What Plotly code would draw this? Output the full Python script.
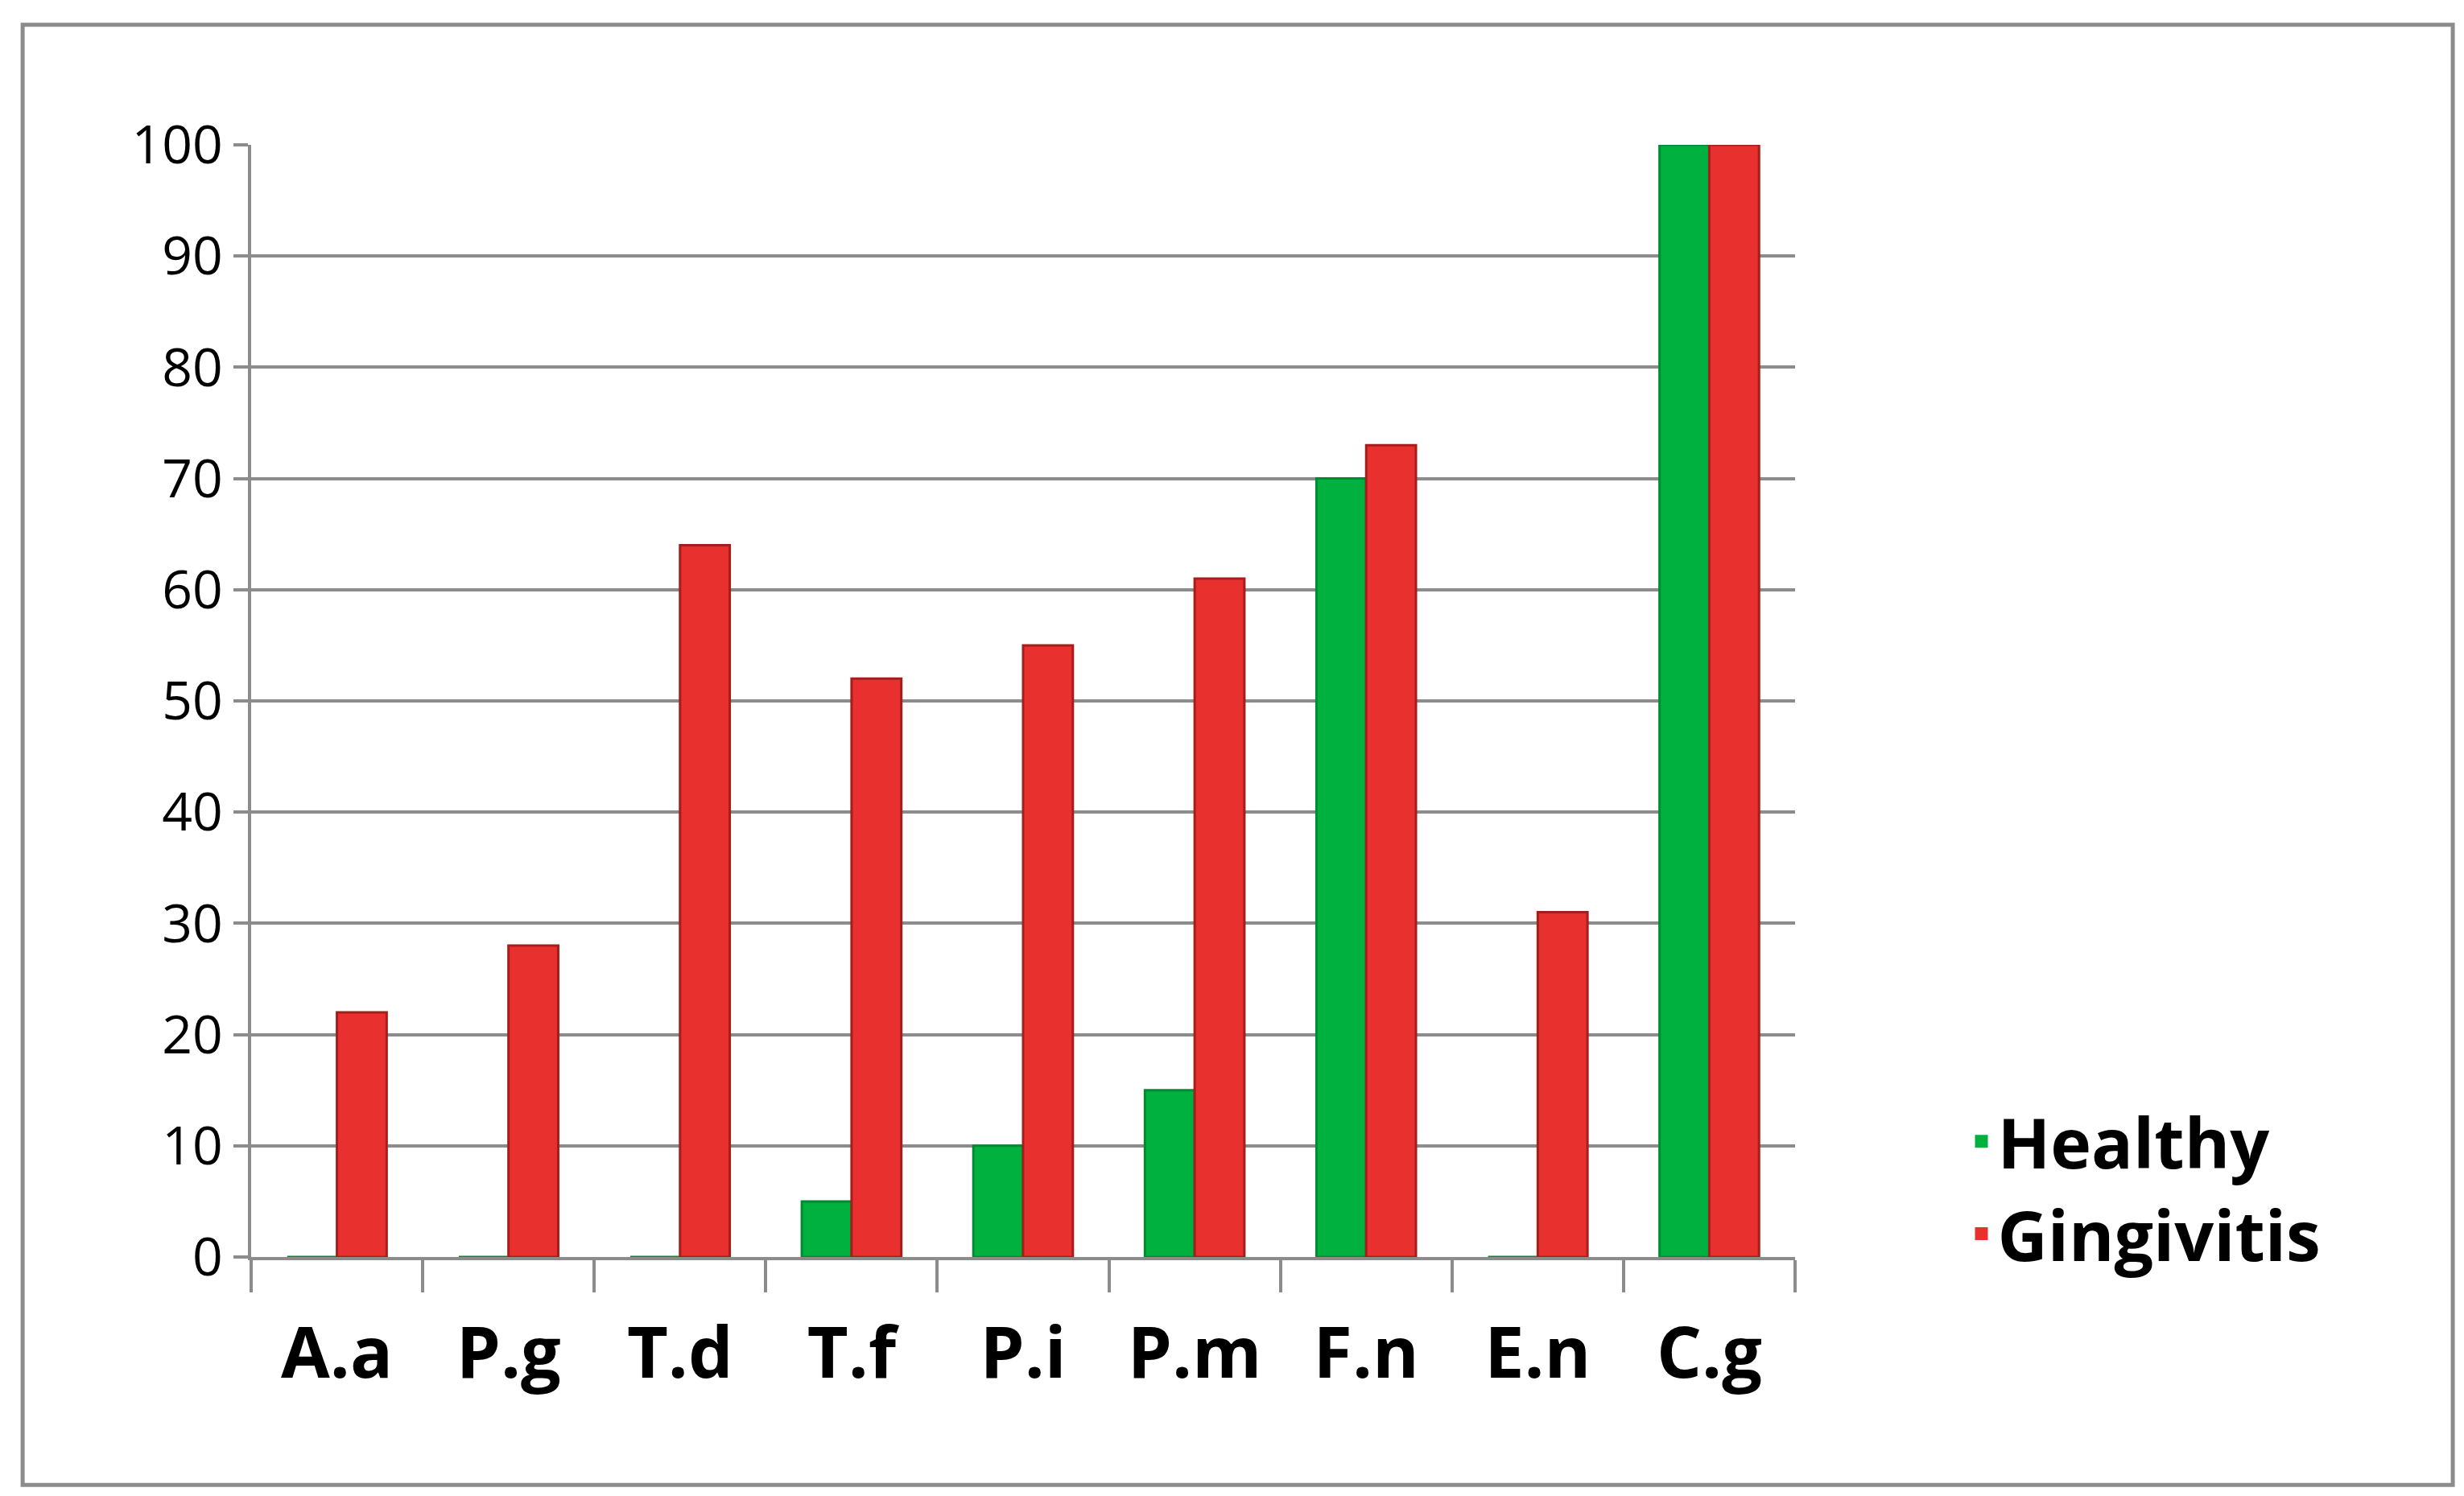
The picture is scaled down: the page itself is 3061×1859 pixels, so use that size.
from plotly import graph_objects as go

# Data
categories = ['A.a', 'P.g', 'T.d', 'T.f', 'P.i', 'P.m', 'F.n', 'E.n', 'C.g']
healthy = [0, 0, 0, 5, 10, 15, 70, 0, 100]
gingivitis = [22, 28, 64, 52, 55, 61, 73, 31, 100]
y_ticks = [0, 10, 20, 30, 40, 50, 60, 70, 80, 90, 100]

green = '#00B140'
red = '#E8302E'

fig = go.Figure()
fig.add_trace(go.Bar(x=categories, y=healthy, name='Healthy', showlegend=False,
                     marker=dict(color=green, line=dict(color='#008A32', width=3))))
fig.add_trace(go.Bar(x=categories, y=gingivitis, name='Gingivitis', showlegend=False,
                     marker=dict(color=red, line=dict(color='#A51E1C', width=3))))
# legend-only entries with big square swatches
fig.add_trace(go.Scatter(x=[None], y=[None], mode='markers', name='Healthy',
                         marker=dict(symbol='square', size=58, color=green)))
fig.add_trace(go.Scatter(x=[None], y=[None], mode='markers', name='Gingivitis',
                         marker=dict(symbol='square', size=58, color=red)))

fig.update_layout(width=3061, height=1859,
                  barmode='group', bargap=0.42, bargroupgap=0.0,
                  plot_bgcolor='white', paper_bgcolor='white',
                  margin=dict(l=304, r=839, t=172, b=305),
                  font=dict(family='Open Sans', color='black'),
                  legend=dict(xref='container', yref='container', x=0.795, y=0.275,
                              xanchor='left', yanchor='top',
                              font=dict(size=86, family='Open Sans', weight='bold'),
                              itemwidth=30, tracegroupgap=60),
                  shapes=[dict(type='rect', xref='paper', yref='paper',
                               x0=-0.148, x1=1.426, y0=-0.205, y1=1.108,
                               line=dict(color='#8C8C8C', width=5))])
fig.update_xaxes(showline=True, linecolor='#8C8C8C', linewidth=4,
                 ticks='outside', ticklen=40, tickcolor='#8C8C8C', tickwidth=4,
                 tickson='boundaries', ticklabelstandoff=40,
                 tickfont=dict(size=88, family='Open Sans', weight='bold'))
fig.update_yaxes(range=[0, 100], tickvals=y_ticks, showgrid=True,
                 gridcolor='#8C8C8C', gridwidth=4,
                 showline=True, linecolor='#8C8C8C', linewidth=4,
                 ticks='outside', ticklen=18, tickcolor='#8C8C8C', tickwidth=4,
                 tickfont=dict(size=66, family='Open Sans'))

fig.write_html("out.html")
